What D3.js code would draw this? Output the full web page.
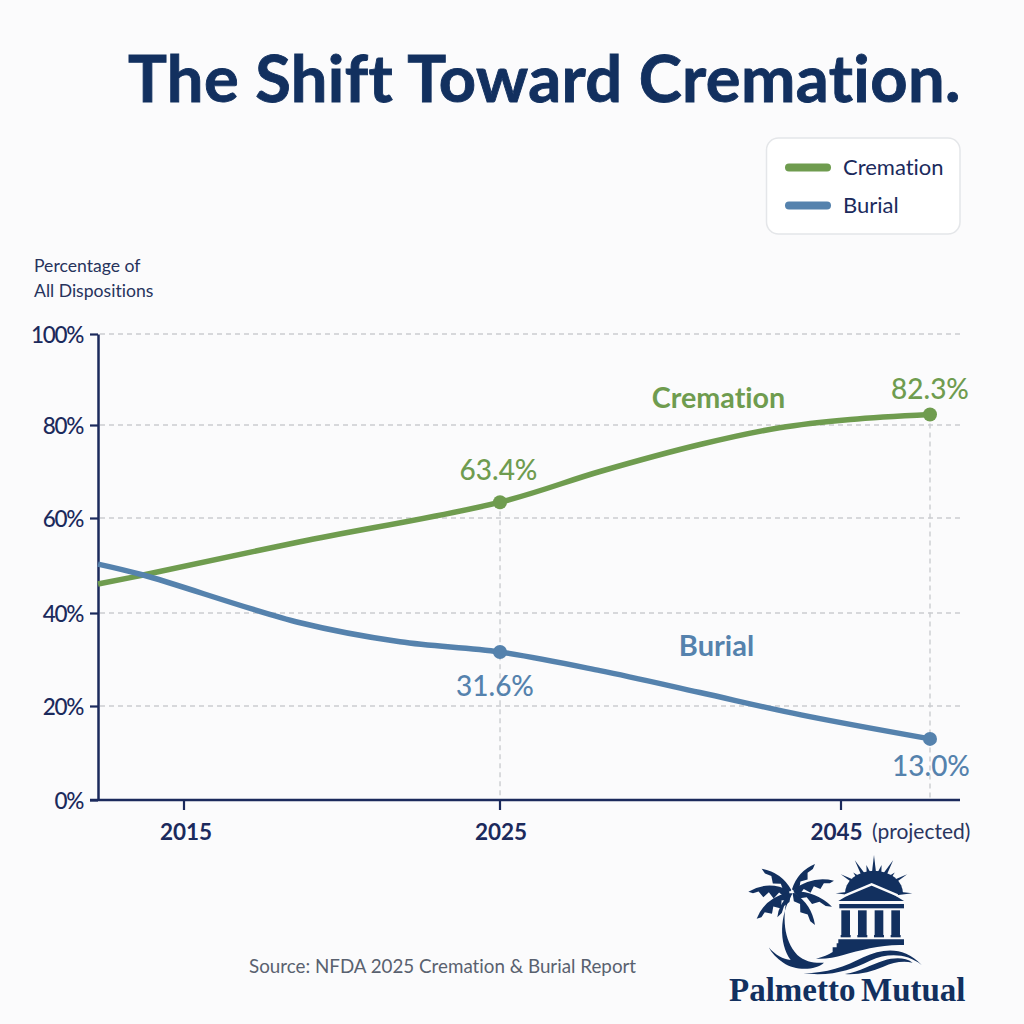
<!DOCTYPE html>
<html>
<head>
<meta charset="utf-8">
<title>The Shift Toward Cremation.</title>
<script src="https://cdn.jsdelivr.net/npm/d3@7/dist/d3.min.js"></script>
<style>
  html, body { margin: 0; padding: 0; background: #fbfbfc; }
  svg { display: block; }
  text { font-family: Lato, "Noto Sans", sans-serif; font-variant-ligatures: none; }
</style>
</head>
<body>
<svg id="chart" width="1024" height="1024"></svg>
<script>
// Chart values
const yTickValues = [0, 20, 40, 60, 80, 100];
const xTickLabels = ["2015", "2025", "2045"];

const cremationYears  = [2006.3, 2008.4, 2015.7, 2025, 2029.65, 2034.3, 2038, 2041.3, 2045];
const cremationValues = [46.1, 48.0, 55.0, 63.4, 70.0, 75.8, 79.4, 81.2, 82.3];

const burialYears  = [2006.3, 2008.4, 2015.7, 2020.35, 2025, 2029.65, 2034.3, 2039, 2045];
const burialValues = [50.3, 48.0, 37.9, 33.8, 31.6, 27.6, 22.9, 18.1, 13.0];

const calloutYears = [2025, 2045];
const cremationCallouts = [63.4, 82.3];
const burialCallouts = [31.6, 13.0];

const colors = { navy: "#12305f", axis: "#1b2a5c", green: "#6f9c4f", blue: "#5582ad", grid: "#cbcdd0" };

const svg = d3.select("#chart");

// Scales: the tick axis spaces its three labelled years independently of the series axis
const y = d3.scaleLinear().domain(yTickValues).range([800, 706, 613, 518, 425, 334]);
const x = d3.scaleLinear().domain([2006.3, 2045]).range([98, 930]);
const xTicks = d3.scaleOrdinal().domain(xTickLabels).range([184, 500, 841]);
const axisEnd = 960;

// Title
svg.append("text").attr("x", 128).attr("y", 101.5)
  .attr("font-size", 65).attr("font-weight", 700).attr("fill", colors.navy)
  .attr("stroke", colors.navy).attr("stroke-width", 0.9)
  .attr("letter-spacing", 0.4)
  .text("The Shift Toward Cremation.");

// Gridlines
svg.append("g").selectAll("line").data(yTickValues.slice(1)).join("line")
  .attr("x1", 100).attr("x2", axisEnd)
  .attr("y1", d => y(d)).attr("y2", d => y(d))
  .attr("stroke", colors.grid).attr("stroke-width", 1.4).attr("stroke-dasharray", "5 4");

// Drop lines from the labelled points
svg.append("g").selectAll("line").data(calloutYears).join("line")
  .attr("x1", d => x(d)).attr("x2", d => x(d))
  .attr("y1", (d, i) => y(cremationCallouts[i])).attr("y2", 800)
  .attr("stroke", colors.grid).attr("stroke-width", 1.4).attr("stroke-dasharray", "5 4");

// Y axis
const yAxis = svg.append("g").attr("transform", "translate(98,0)")
  .call(d3.axisLeft(y).tickValues(yTickValues).tickFormat(d => d + "%").tickSize(8).tickSizeOuter(0));
yAxis.select(".domain").attr("stroke", colors.axis).attr("stroke-width", 2.5);
yAxis.selectAll(".tick line").attr("stroke", colors.axis).attr("stroke-width", 2.2);
yAxis.selectAll(".tick text").attr("x", -15).attr("dy", "0.36em")
  .attr("font-size", 22.5).attr("font-weight", 500).attr("fill", colors.axis)
  .attr("letter-spacing", -1.3)
  .style("font-family", "Lato");

// X axis
const xAxisScale = d3.scaleLinear().domain([0, 1]).range([90, axisEnd]);
const xAxis = svg.append("g").attr("transform", "translate(0,800)");
xAxis.append("line").attr("x1", xAxisScale(0)).attr("x2", xAxisScale(1))
  .attr("stroke", colors.axis).attr("stroke-width", 2.5);
xAxis.selectAll(".xtick").data(xTickLabels).join("line").attr("class", "xtick")
  .attr("x1", d => xTicks(d)).attr("x2", d => xTicks(d))
  .attr("y1", 0).attr("y2", 10)
  .attr("stroke", colors.axis).attr("stroke-width", 2.2);
const xLabelCenters = { "2015": 186, "2025": 501, "2045": 836.5 };
xAxis.selectAll(".xlabel").data(xTickLabels).join("text").attr("class", "xlabel")
  .attr("x", d => xLabelCenters[d]).attr("y", 40).attr("text-anchor", "middle")
  .attr("font-size", 22.5).attr("font-weight", 700).attr("fill", colors.axis)
  .text(d => d);
xAxis.append("text").attr("x", 872).attr("y", 39)
  .attr("font-size", 21).attr("fill", "#2a3560").text("(projected)");

// Axis title
svg.append("text").attr("fill", "#27335c").attr("font-size", 17.6)
  .selectAll("tspan").data(["Percentage of", "All Dispositions"]).join("tspan")
  .attr("x", 34).attr("y", (d, i) => 272 + i * 24.5).text(d => d);

// Series lines
const line = d3.line().x(d => x(d[0])).y(d => y(d[1])).curve(d3.curveCatmullRom.alpha(0.5));
const cremationPoints = d3.zip(cremationYears, cremationValues);
const burialPoints = d3.zip(burialYears, burialValues);

svg.append("path").datum(cremationPoints).attr("d", line)
  .attr("fill", "none").attr("stroke", colors.green).attr("stroke-width", 5.5);
svg.append("path").datum(burialPoints).attr("d", line)
  .attr("fill", "none").attr("stroke", colors.blue).attr("stroke-width", 5.5);

// Points at the labelled years
[[cremationCallouts, colors.green], [burialCallouts, colors.blue]].forEach(([vals, c]) => {
  svg.append("g").selectAll("circle").data(vals).join("circle")
    .attr("cx", (d, i) => x(calloutYears[i])).attr("cy", d => y(d))
    .attr("r", 7).attr("fill", c);
});

// Value callouts
const fmt = d => d.toFixed(1) + "%";
const callout = (text, cx, base, color, size) => svg.append("text")
  .attr("x", cx).attr("y", base).attr("text-anchor", "middle")
  .attr("font-size", size).attr("font-weight", 500).attr("fill", color).text(text);
callout(fmt(cremationCallouts[0]), 498.5, 480, colors.green, 28);
callout(fmt(cremationCallouts[1]), 930, 399, colors.green, 28);
callout(fmt(burialCallouts[0]), 495, 696, colors.blue, 28);
callout(fmt(burialCallouts[1]), 931, 776, colors.blue, 28);

// Direct series labels
svg.append("text").attr("x", 718.5).attr("y", 408).attr("text-anchor", "middle")
  .attr("font-size", 28.7).attr("font-weight", 700).attr("fill", colors.green).text("Cremation");
svg.append("text").attr("x", 716.5).attr("y", 656).attr("text-anchor", "middle")
  .attr("font-size", 29).attr("font-weight", 700).attr("fill", colors.blue).text("Burial");

// Legend
const legend = svg.append("g");
legend.append("rect").attr("x", 766.5).attr("y", 138).attr("width", 193.5).attr("height", 96).attr("rx", 12)
  .attr("fill", "#ffffff").attr("stroke", "#e4e6e9").attr("stroke-width", 1.5);
[["Cremation", colors.green, 167.5], ["Burial", colors.blue, 205.5]].forEach(([name, c, ly]) => {
  legend.append("line").attr("x1", 789).attr("x2", 827).attr("y1", ly).attr("y2", ly)
    .attr("stroke", c).attr("stroke-width", 8).attr("stroke-linecap", "round");
  legend.append("text").attr("x", 843).attr("y", ly + 7.5)
    .attr("font-size", 22).attr("fill", "#1b2a5c").text(name);
});

// Source note
svg.append("text").attr("x", 249).attr("y", 973).attr("font-size", 18.8).attr("fill", "#59616f")
  .text("Source: NFDA 2025 Cremation & Burial Report");

// Company logo
const logo = svg.append("g").attr("transform", "translate(720,840) scale(0.3333)").attr("fill", "#12305f");

// Palm fronds: a curved outer edge and a serrated inner edge between base and tip
function frond(bx, by, tx, ty, bulge, teeth) {
  const mx = (bx + tx) / 2, my = (by + ty) / 2;
  const dx = tx - bx, dy = ty - by, len = Math.hypot(dx, dy);
  const nx = -dy / len, ny = dx / len;
  const cx = mx + nx * bulge, cy = my + ny * bulge;
  const qp = t => [
    (1 - t) * (1 - t) * bx + 2 * t * (1 - t) * cx + t * t * tx,
    (1 - t) * (1 - t) * by + 2 * t * (1 - t) * cy + t * t * ty
  ];
  let d = `M${bx},${by}Q${cx},${cy} ${tx},${ty}`;
  for (let i = teeth; i > 0; i--) {
    const t0 = (i - 0.45) / teeth, t1 = (i - 1) / teeth;
    const p0 = qp(t0), p1 = qp(Math.max(t1, 0));
    const w0 = -bulge * 1.15 * Math.sin(Math.PI * Math.min(t0 * 0.9 + 0.1, 1));
    const w1 = -bulge * 0.6 * Math.sin(Math.PI * Math.min(t1 * 0.9 + 0.1, 1));
    d += `L${p0[0] + nx * w0},${p0[1] + ny * w0}`;
    d += `L${p1[0] + nx * w1},${p1[1] + ny * w1}`;
  }
  return d + "Z";
}
const fronds = [
  [214, 150, 125, 86, 26, 3],
  [216, 148, 285, 72, -24, 3],
  [220, 150, 342, 122, -30, 4],
  [208, 152, 85, 155, 34, 4],
  [206, 158, 110, 236, 34, 4],
  [210, 162, 172, 232, 16, 2],
  [222, 158, 285, 255, -26, 3],
  [224, 154, 336, 200, -24, 3]
];
fronds.forEach(f => logo.append("path").attr("d", frond(...f)));

// Trunk curving into the crescent at its foot
logo.append("path").attr("d",
  "M204,160 C186,230 190,300 232,345 C255,366 285,370 312,368 C285,392 225,392 190,368 C170,355 155,340 146,322 " +
  "C165,345 190,358 212,360 C176,310 178,225 218,160 Z");

// Sun with alternating long and short rays
const sun = logo.append("g");
const sunAngles = d3.range(-180, 1, 15);
sunAngles.forEach((a, i) => {
  const rad = a * Math.PI / 180, w = 0.1;
  const r = i % 2 === 0 ? 115 : 88;
  const pt = (ang, rr) => `${462 + rr * Math.cos(ang)},${160 + rr * Math.sin(ang)}`;
  sun.append("polygon").attr("points", `${pt(rad - w, 62)} ${pt(rad, r)} ${pt(rad + w, 62)}`);
});
sun.append("path").attr("d", "M375,160 A87,68 0 0 1 549,160 Z");

// Temple pediment, entablature, columns and base
logo.append("polygon").attr("points", "355,183 455,124 552,183");
logo.append("polyline").attr("points", "376,166 455,133 533,166")
  .attr("fill", "none").attr("stroke", "#fbfbfc").attr("stroke-width", 7);
logo.append("rect").attr("x", 358).attr("y", 192).attr("width", 194).attr("height", 13);
[362, 412, 462, 512].forEach(cx => {
  logo.append("rect").attr("x", cx + 2).attr("y", 211).attr("width", 26).attr("height", 74);
  logo.append("rect").attr("x", cx).attr("y", 285).attr("width", 30).attr("height", 7);
});
logo.append("path").attr("d",
  "M355,298 H552 V315 C490,312 420,330 370,345 C345,352 315,358 288,356 C310,350 325,345 338,336 V322 H350 V310 H355 Z");

// Waves
logo.append("path").attr("d",
  "M250,400 C320,400 375,380 430,352 C490,325 550,318 605,375 C560,340 505,338 450,362 C395,388 340,410 250,400 Z");
logo.append("path").attr("d",
  "M375,402 C420,395 455,372 490,362 C525,352 555,352 578,368 C545,362 520,368 490,380 C455,395 415,405 375,402 Z");

// Company name
svg.append("text").attr("x", 729).attr("y", 1001)
  .style("font-family", "'Liberation Serif', serif")
  .attr("font-size", 33).attr("font-weight", 700).attr("fill", "#12305f")
  .text("Palmetto");
svg.append("text").attr("x", 861).attr("y", 1001)
  .style("font-family", "'Liberation Serif', serif")
  .attr("font-size", 33).attr("font-weight", 700).attr("fill", "#12305f")
  .text("Mutual");
</script>
</body>
</html>
